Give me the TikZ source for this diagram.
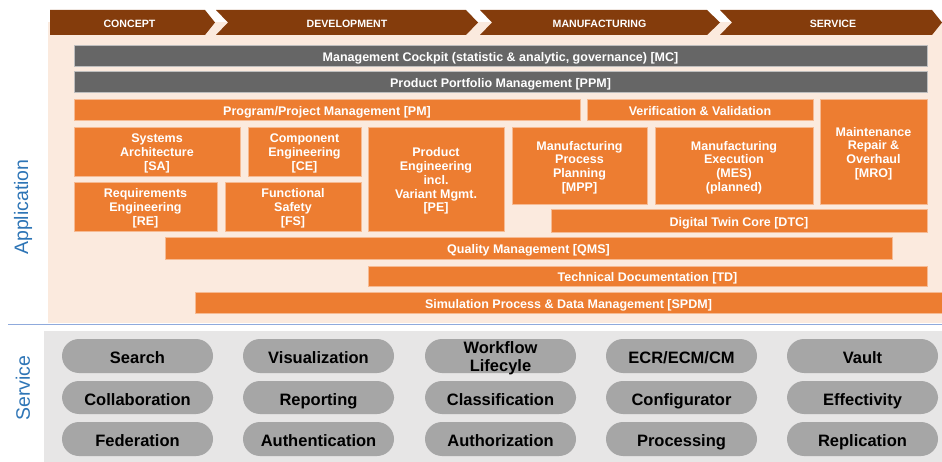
\documentclass[tikz,border=0pt]{standalone}
\usepackage{fontspec}
\setmainfont{Liberation Sans}
\definecolor{phasebrown}{RGB}{132,60,12}
\definecolor{peach}{RGB}{251,234,222}
\definecolor{orng}{RGB}{237,125,49}
\definecolor{orngline}{RGB}{246,186,146}
\definecolor{darkgr}{RGB}{102,102,102}
\definecolor{darkgrline}{RGB}{190,190,190}
\definecolor{svcbg}{RGB}{231,230,230}
\definecolor{svcgr}{RGB}{166,166,166}
\definecolor{labblue}{RGB}{46,117,182}
\definecolor{sepblue}{RGB}{143,170,220}
\newcommand\bx[7][obox]{\node[#1, minimum width={(#5)-(#3)}, minimum height={(#6)-(#4)}, anchor=north west] (#2) at (#3,#4) {#7};}
% multi-line: box and its text as two nodes, text lowered 2pt
\newcommand\mbx[7][obox]{\node[#1, minimum width={(#5)-(#3)}, minimum height={(#6)-(#4)}, anchor=north west] (#2) at (#3,#4) {};
  \node[#1, fill=none, draw=none, yshift=-2pt] (#2-t) at (#2.center) {#7};}
\newcommand\tp{\rule[-0.18em]{0pt}{1.32em}}
\begin{document}
\begin{tikzpicture}[x=1pt,y=-1pt,
  phase/.style={fill=phasebrown, draw=none},
  phaselab/.style={text=white, font=\fontsize{10.6}{11}\selectfont\bfseries, execute at begin node=\tp},
  gbar/.style={fill=darkgr, draw=darkgrline, line width=0.8pt, text=white, inner sep=0pt, outer sep=0pt, font=\fontsize{12.5}{13.8}\selectfont\bfseries, execute at begin node=\tp, execute at end node=\tp},
  obox/.style={fill=orng, draw=orngline, line width=0.8pt, text=white, inner sep=0pt, outer sep=0pt, align=center, font=\fontsize{12.5}{13.8}\selectfont\bfseries, execute at begin node=\tp, execute at end node=\tp},
  svc/.style={fill=svcgr, draw=none, rounded corners=17pt, text=black, inner sep=0pt, outer sep=0pt, align=center, font=\fontsize{16.5}{18}\selectfont\bfseries, execute at begin node=\tp, execute at end node=\tp},
  sidelab/.style={rotate=90, text=labblue, font=\fontsize{19.5}{20}\selectfont}
]
\useasboundingbox (0,0) rectangle (942,462);
% backgrounds
\fill[peach] (48,22) rectangle (942,323);
\fill[svcbg] (44,331) rectangle (942,462);
\draw[sepblue, line width=0.8pt] (8,324.5) -- (942,324.5);
% phases
\fill[phase] (50,10) -- (205,10) -- (215,22.5) -- (205,35) -- (50,35) -- cycle;
\fill[phase] (216,10) -- (466,10) -- (478,22.5) -- (466,35) -- (216,35) -- (228,22.5) -- cycle;
\fill[phase] (480,10) -- (707,10) -- (720,22.5) -- (707,35) -- (480,35) -- (492,22.5) -- cycle;
\fill[phase] (720,10) -- (932,10) -- (942,22.5) -- (932,35) -- (720,35) -- (732,22.5) -- cycle;
\node[phaselab] (p1) at (129.5,22.5) {CONCEPT};
\node[phaselab] (p2) at (347,22.5) {DEVELOPMENT};
\node[phaselab] (p3) at (599.5,22.5) {MANUFACTURING};
\node[phaselab] (p4) at (833,22.5) {SERVICE};
% side labels
\node[sidelab] (app) at (23,207) {Application};
\node[sidelab] (srv) at (23,388) {Service};
% gray bars
\bx[gbar]{mc}{74}{45}{927}{66}{Management Cockpit (statistic \& analytic, governance) [MC]}
\bx[gbar]{ppm}{74}{71}{927}{92}{Product Portfolio Management [PPM]}
% orange boxes
\bx{pm}{74}{99}{580}{120}{Program/Project Management [PM]}
\bx{vv}{587}{99}{813}{120}{Verification \& Validation}
\mbx{mro}{820}{99}{927}{204}{Maintenance\\Repair \&\\Overhaul\\{}[MRO]}
\mbx{sa}{74}{127}{240}{176}{Systems\\Architecture\\{}[SA]}
\mbx{ce}{248}{127}{361}{176}{Component\\Engineering\\{}[CE]}
\mbx{pe}{368}{127}{504}{231}{Product\\Engineering\\incl.\\Variant Mgmt.\\{}[PE]}
\mbx{re}{74}{182}{217}{231}{Requirements\\Engineering\\{}[RE]}
\mbx{fs}{225}{182}{361}{231}{Functional\\Safety\\{}[FS]}
\mbx{mpp}{512}{127}{647}{204}{Manufacturing\\Process\\Planning\\{}[MPP]}
\mbx{mes}{655}{127}{813}{204}{Manufacturing\\Execution\\(MES)\\(planned)}
\bx{dtc}{551}{209}{927}{232}{Digital Twin Core [DTC]}
\bx{qms}{165}{237}{892}{259}{Quality Management [QMS]}
\bx{td}{368}{266}{927}{286}{Technical Documentation [TD]}
\bx{spdm}{195}{292}{942}{313}{Simulation Process \& Data Management [SPDM]}
% services
\bx[svc]{s11}{62}{339}{213}{373}{Search}
\bx[svc]{s12}{243}{339}{394}{373}{Visualization}
\mbx[svc]{s13}{425}{339}{576}{373}{Workflow\\Lifecyle}
\bx[svc]{s14}{606}{339}{757}{373}{ECR/ECM/CM}
\bx[svc]{s15}{787}{339}{938}{373}{Vault}
\bx[svc]{s21}{62}{381}{213}{414}{Collaboration}
\bx[svc]{s22}{243}{381}{394}{414}{Reporting}
\bx[svc]{s23}{425}{381}{576}{414}{Classification}
\bx[svc]{s24}{606}{381}{757}{414}{Configurator}
\bx[svc]{s25}{787}{381}{938}{414}{Effectivity}
\bx[svc]{s31}{62}{422}{213}{456}{Federation}
\bx[svc]{s32}{243}{422}{394}{456}{Authentication}
\bx[svc]{s33}{425}{422}{576}{456}{Authorization}
\bx[svc]{s34}{606}{422}{757}{456}{Processing}
\bx[svc]{s35}{787}{422}{938}{456}{Replication}
\end{tikzpicture}
\end{document}
